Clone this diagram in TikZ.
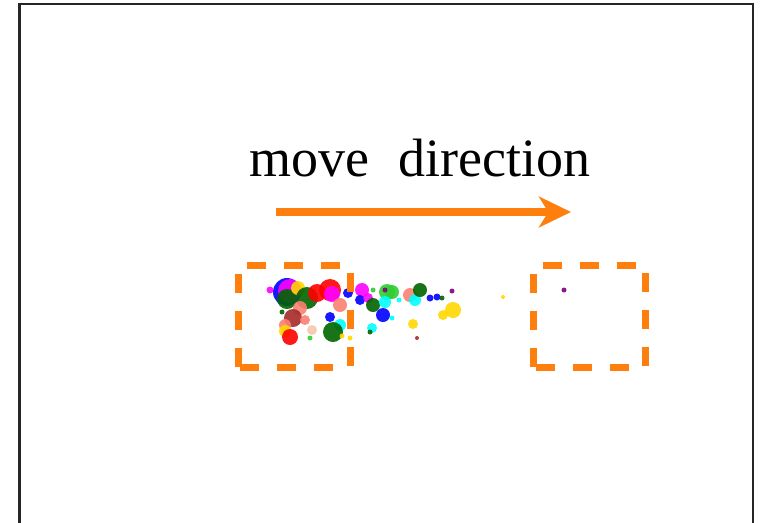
\documentclass[tikz,border=0pt]{standalone}
\usepackage{fontspec}
\setmainfont{Liberation Serif}
\usetikzlibrary{arrows.meta}
\definecolor{moveorange}{RGB}{255,127,14}
\definecolor{dkgreen}{RGB}{0,100,0}
\definecolor{salmon}{RGB}{250,128,114}
\definecolor{brownred}{RGB}{165,42,42}
\definecolor{lime}{RGB}{50,205,50}
\definecolor{gold}{RGB}{255,215,0}
\definecolor{peach}{RGB}{245,200,170}
\definecolor{pcyan}{RGB}{0,255,255}
\definecolor{pmagenta}{RGB}{255,0,255}
\definecolor{pblue}{RGB}{0,0,255}
\definecolor{pred}{RGB}{255,0,0}
\definecolor{ppurple}{RGB}{128,0,128}
\begin{document}
\begin{tikzpicture}[x=0.75pt, y=-0.75pt,
    boxarea/.style={minimum width=84pt, minimum height=76.5pt, inner sep=0pt, outer sep=0pt},
    dashbox/.style={draw=moveorange, line width=5.25pt, dash pattern=on 14.25pt off 13.5pt},
    movearrow/.style={moveorange, line width=5.5pt,
        -{Stealth[length=24pt, width=23pt, inset=7pt]}},
    dot/.style={fill opacity=0.9, draw=none}]
    \useasboundingbox (0,0) rectangle (760,522);
    % Frame
    \draw[line width=1.6pt, black!85] (19.5,530) -- (19.5,4) -- (753,4) -- (753,530);

    % Title and arrow
    \node[anchor=base, inner sep=0pt, font=\fontsize{40.5}{40.5}\selectfont] (title) at (420,176)
        {move\hspace{0.55em}direction};
    \coordinate (from) at (276,212);
    \coordinate (to) at (571,212);
    \draw[movearrow] (from) -- (to);

    % Particles
    \foreach \x/\y/\r/\c in {
        287/292/14/pblue, 290/291/12/pmagenta, 287/299/10/dkgreen, 298/288/7/gold,
        307/298/11/dkgreen, 317/293/9/pred, 330/290/11/pred, 332/294/8/pmagenta,
        340/305/7/salmon, 300/308/7/salmon, 293/318/9/brownred, 305/320/5/salmon,
        285/325/6/salmon, 285/331/6/gold, 290/337/8/pred, 312/330/5/peach,
        310/338/2.5/lime, 270/290/3.5/pmagenta, 282/312/2.5/dkgreen, 330/317/5/pblue,
        340/325/6/pcyan, 333/332/10/dkgreen, 342/336/2.5/gold, 348/293/5/pblue,
        362/290/7/pmagenta, 360/300/5/pblue, 368/298/5/pmagenta, 373/290/2.5/lime,
        387/292/8/lime, 392/292/7/lime, 385/290/2.5/ppurple, 373/305/7/dkgreen,
        385/302/6/pcyan, 399/300/2.5/pcyan, 383/315/7/pblue, 392/318/2.5/pcyan,
        410/295/7/salmon, 415/300/6/pcyan, 420/290/7/dkgreen, 430/298/3.5/pblue,
        437/297/3.5/pblue, 442/298/2.5/dkgreen, 452/291/2.5/ppurple, 453/310/8/gold,
        443/315/5/gold, 413/324/5/gold, 372/328/5/pcyan, 370/332/2.5/dkgreen,
        417/338/2/brownred, 350/338/2.5/gold, 503/297/2/gold, 564/290/2.5/ppurple}
        \fill[dot, \c] (\x,\y) circle (\r*0.75pt);

    % Boxes
    \node[boxarea] (start) at (294,316) {};
    \node[boxarea] (goal) at (589.5,316) {};
    \foreach \b in {start, goal}
        \draw[dashbox] (\b.south west) -- (\b.north west) -- (\b.north east)
            -- (\b.south east) -- cycle;
\end{tikzpicture}
\end{document}
